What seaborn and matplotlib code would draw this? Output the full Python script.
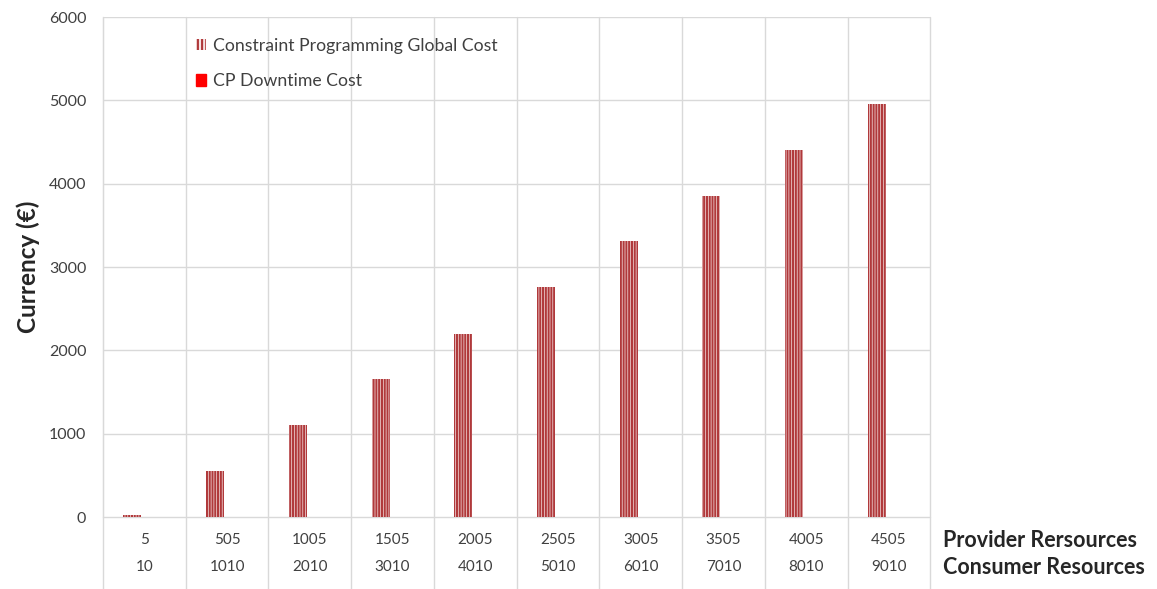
import matplotlib
matplotlib.use("Agg")
import matplotlib.pyplot as plt
import matplotlib.patches as mpatches
import seaborn as sns
import pandas as pd

# values
provider = ["5", "505", "1005", "1505", "2005", "2505", "3005", "3505", "4005", "4505"]
consumer = ["10", "1010", "2010", "3010", "4010", "5010", "6010", "7010", "8010", "9010"]
cp_global = [25, 550, 1100, 1655, 2200, 2755, 3310, 3855, 4405, 4955]
cp_downtime = [0, 0, 0, 0, 0, 0, 0, 0, 0, 0]
series = ["Constraint Programming Global Cost", "CP Downtime Cost"]

df = pd.DataFrame({
    "provider": provider * 2,
    "cost": cp_global + cp_downtime,
    "series": [series[0]] * len(provider) + [series[1]] * len(provider),
})

sns.set_style("white")
plt.rcParams["font.family"] = ["Lato", "DejaVu Sans"]
plt.rcParams["hatch.linewidth"] = 1.5

dark_red = "#B0393B"
grid_col = "#D9D9D9"
txt_col = "#404040"

fig = plt.figure(figsize=(11.57, 5.89), dpi=100)
ax = fig.add_axes([0.089, 0.1222, 0.715, 0.8489])

sns.barplot(ax=ax, data=df, x="provider", y="cost", hue="series",
            order=provider, hue_order=series, width=0.58, gap=0.25,
            palette=["white", "red"], legend=False)

# hatch the first series with vertical lines
n = len(provider)
for bar in ax.patches[:n]:
    bar.set_facecolor("#F6E4E4")
    bar.set_edgecolor(dark_red)
    bar.set_hatch("||||||")
    bar.set_linewidth(0)
for bar in ax.patches[n:]:
    bar.set_linewidth(0)

ax.set_ylim(0, 6000)
ax.set_xlim(-0.5, n - 0.5)
ax.set_yticks(range(0, 6001, 1000))
ax.tick_params(axis="y", length=0, pad=12, labelsize=11.5, labelcolor=txt_col)
ax.set_xticks([])
ax.set_xlabel("")
ax.set_ylabel("Currency (€)", fontsize=17.5, fontweight="bold", labelpad=6)

for s in ["top", "right", "bottom"]:
    ax.spines[s].set_visible(False)
ax.spines["left"].set_color(grid_col)

for v in range(1000, 6001, 1000):
    ax.axhline(v, color=grid_col, lw=1, zorder=0)
for b in range(n + 1):
    ax.plot([b - 0.5, b - 0.5], [-0.145, 1], color=grid_col, lw=1,
            transform=ax.get_xaxis_transform(), clip_on=False, zorder=0)
ax.plot([-0.5, n - 0.5], [0, 0], color=grid_col, lw=1,
        transform=ax.get_xaxis_transform(), clip_on=False, zorder=0)

# two-row category table under the axis
for i in range(n):
    ax.text(i, -0.046, provider[i], ha="center", va="center", fontsize=11,
            color=txt_col, transform=ax.get_xaxis_transform())
    ax.text(i, -0.1, consumer[i], ha="center", va="center", fontsize=11,
            color=txt_col, transform=ax.get_xaxis_transform())
ax.text(1.015, -0.046, "Provider Rersources", ha="left", va="center", fontsize=15.5,
        fontweight="bold", transform=ax.transAxes)
ax.text(1.015, -0.1, "Consumer Resources", ha="left", va="center", fontsize=15.5,
        fontweight="bold", transform=ax.transAxes)

handles = [
    mpatches.Patch(facecolor="#F6E4E4", edgecolor=dark_red, hatch="||||", linewidth=0,
                   label=series[0]),
    mpatches.Patch(facecolor="red", edgecolor="red", label=series[1]),
]
ax.legend(handles=handles, loc="upper left", bbox_to_anchor=(0.093, 0.99),
          frameon=False, fontsize=12.7, handlelength=0.6, handleheight=0.6,
          handletextpad=0.35, labelspacing=1.1, labelcolor=txt_col)

fig.savefig("out.png", dpi=100)
